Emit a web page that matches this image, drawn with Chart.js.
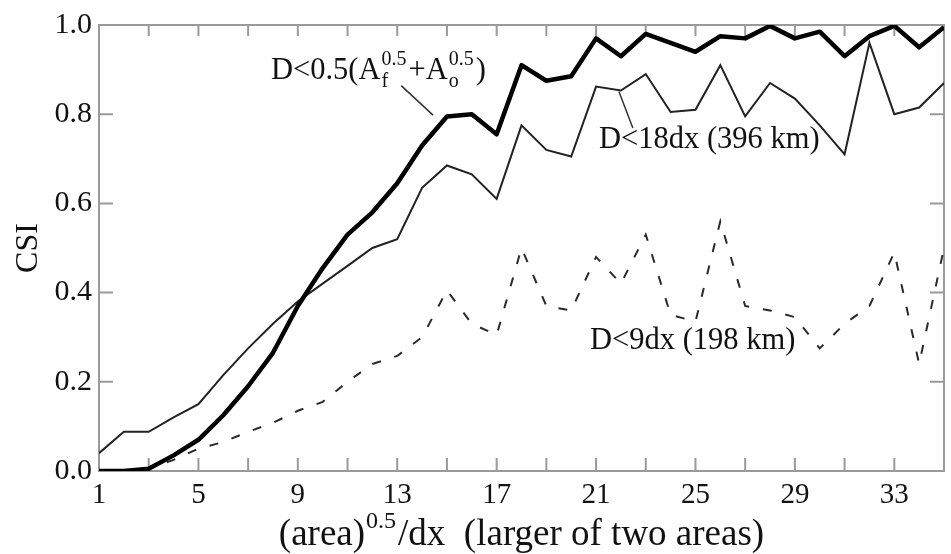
<!DOCTYPE html>
<html>
<head>
<meta charset="utf-8">
<script src="https://cdn.jsdelivr.net/npm/chart.js@4.4.1/dist/chart.umd.min.js"></script>
<style>
  html, body { margin: 0; padding: 0; background: #fff; }
  #wrap { width: 951px; height: 554px; }
</style>
</head>
<body>
<div id="wrap"><canvas id="grafico" width="951" height="554"></canvas></div>
<script>
// Datos

const tamanos = [1, 2, 3, 4, 5, 6, 7, 8, 9, 10, 11, 12, 13, 14, 15, 16, 17, 18,
  19, 20, 21, 22, 23, 24, 25, 26, 27, 28, 29, 30, 31, 32, 33, 34, 35];

// D<0.5(Af^0.5+Ao^0.5)
const csiArea = [0.0, 0.0, 0.005, 0.035, 0.07, 0.125, 0.19, 0.265, 0.37, 0.455,
  0.53, 0.58, 0.645, 0.73, 0.795, 0.80, 0.755, 0.91, 0.875, 0.885, 0.97, 0.93,
  0.98, 0.96, 0.94, 0.975, 0.97, 0.998, 0.97, 0.985, 0.93, 0.975, 0.998, 0.95, 0.995];

// D<18dx (396 km)
const csi18dx = [0.04, 0.088, 0.088, 0.12, 0.15, 0.215, 0.275, 0.33, 0.38, 0.42,
  0.46, 0.50, 0.52, 0.635, 0.685, 0.665, 0.61, 0.775, 0.72, 0.705, 0.862, 0.853,
  0.89, 0.805, 0.81, 0.91, 0.795, 0.87, 0.835, 0.775, 0.71, 0.96, 0.80, 0.815, 0.87];

// D<9dx (198 km)
const csi9dx = [0.0, 0.0, 0.005, 0.025, 0.05, 0.065, 0.088, 0.108, 0.135, 0.155,
  0.20, 0.24, 0.258, 0.30, 0.405, 0.33, 0.305, 0.50, 0.37, 0.36, 0.48, 0.42,
  0.53, 0.35, 0.335, 0.56, 0.37, 0.36, 0.345, 0.275, 0.33, 0.37, 0.49, 0.24, 0.50];

const etiquetasX = [1, 5, 9, 13, 17, 21, 25, 29, 33];
const etiquetasY = [0.0, 0.2, 0.4, 0.6, 0.8, 1.0];

const FUENTE = '"Liberation Serif", "Times New Roman", serif';

// Rotulos dentro del grafico (en coordenadas de datos)
const rotulos = [
  { x: 7.92, y: 0.879, partes: [{ t: 'D<0.5(A' }, { sub: 'f', sup: '0.5' }, { t: '+A' }, { sub: 'o', sup: '0.5' }, { t: ')' }] },
  { x: 21.12, y: 0.724, partes: [{ t: 'D<18dx (396 km)' }] },
  { x: 20.76, y: 0.273, partes: [{ t: 'D<9dx (198 km)' }] }
];
const guias = [
  { x1: 13.16, y1: 0.864, x2: 14.44, y2: 0.798 },
  { x1: 21.92, y1: 0.851, x2: 22.48, y2: 0.769 }
];

//Funciones auxiliares

function puntos(valores) {
  return tamanos.map((t, i) => ({ x: t, y: valores[i] }));
}

function textoRico(ctx, x, y, partes, tam, dibujar) {
  let cx = x;
  for (const p of partes) {
    if (p.t) {
      ctx.font = `${tam}px ${FUENTE}`;
      if (dibujar) ctx.fillText(p.t, cx, y);
      cx += ctx.measureText(p.t).width;
    } else {
      ctx.font = `${Math.round(tam * 0.66)}px ${FUENTE}`;
      let w = 0;
      if (p.sup) {
        if (dibujar) ctx.fillText(p.sup, cx + 1, y - tam * 0.45);
        w = ctx.measureText(p.sup).width;
      }
      if (p.sub) {
        if (dibujar) ctx.fillText(p.sub, cx + 1, y + tam * 0.25);
        w = Math.max(w, ctx.measureText(p.sub).width);
      }
      cx += w + 3;
    }
  }
  return cx - x;
}

const cajaEjes = {
  id: 'cajaEjes',
  beforeDatasetsDraw(chart) {
    const { ctx, chartArea: a, scales: { x, y } } = chart;
    ctx.save();
    ctx.strokeStyle = '#9a9a9a';
    ctx.lineWidth = 2;
    ctx.strokeRect(a.left, a.top, a.right - a.left, a.bottom - a.top);
    ctx.beginPath();
    for (const t of x.ticks) {
      const px = x.getPixelForValue(t.value);
      ctx.moveTo(px, a.bottom); ctx.lineTo(px, a.bottom - 13);
      ctx.moveTo(px, a.top); ctx.lineTo(px, a.top + 11);
    }
    for (const t of y.ticks) {
      const py = y.getPixelForValue(t.value);
      ctx.moveTo(a.left, py); ctx.lineTo(a.left + 14, py);
      ctx.moveTo(a.right, py); ctx.lineTo(a.right - 14, py);
    }
    ctx.stroke();
    ctx.restore();
  },
  afterDraw(chart) {
    const { ctx, chartArea: a, scales: { x, y } } = chart;
    ctx.save();
    ctx.fillStyle = '#111';
    ctx.textBaseline = 'alphabetic';
    ctx.textAlign = 'left';
    for (const r of rotulos) {
      textoRico(ctx, x.getPixelForValue(r.x), y.getPixelForValue(r.y), r.partes, 30.5, true);
    }
    ctx.strokeStyle = '#333';
    ctx.lineWidth = 1.5;
    ctx.beginPath();
    for (const g of guias) {
      ctx.moveTo(x.getPixelForValue(g.x1), y.getPixelForValue(g.y1));
      ctx.lineTo(x.getPixelForValue(g.x2), y.getPixelForValue(g.y2));
    }
    ctx.stroke();
    // titulo del eje x con superindice
    const titulo = [{ t: '(area)' }, { sup: '0.5' }, { t: '/dx  (larger of two areas)' }];
    const ancho = textoRico(ctx, 0, 0, titulo, 37, false);
    textoRico(ctx, (a.left + a.right) / 2 - ancho / 2, 545, titulo, 37, true);
    ctx.restore();
  }
};

//Grafico

const ctx = document.getElementById('grafico').getContext('2d');
const grafico = new Chart(ctx, {
  type: 'line',
  data: {
    datasets: [
      {
        label: 'D<0.5(Af^0.5+Ao^0.5)',
        data: puntos(csiArea),
        borderColor: '#000',
        borderWidth: 4.5,
        pointRadius: 0,
        borderJoinStyle: 'round'
      },
      {
        label: 'D<18dx (396 km)',
        data: puntos(csi18dx),
        borderColor: '#222',
        borderWidth: 2,
        pointRadius: 0
      },
      {
        label: 'D<9dx (198 km)',
        data: puntos(csi9dx),
        borderColor: '#2a2a2a',
        borderWidth: 2,
        borderDash: [9, 14],
        pointRadius: 0
      }
    ]
  },
  options: {
    responsive: false,
    animation: false,
    devicePixelRatio: 1,
    layout: { padding: { top: 21, right: 2, left: 0, bottom: 0 } },
    plugins: {
      legend: { display: false },
      tooltip: { enabled: false }
    },
    scales: {
      x: {
        type: 'linear',
        min: 1,
        max: 35,
        afterFit: s => { s.height = 83; },
        grid: { display: false, drawTicks: false },
        border: { display: false },
        ticks: {
          stepSize: 2,
          padding: 7,
          color: '#111',
          font: { family: FUENTE, size: 29 },
          maxRotation: 0,
          autoSkip: false,
          callback: v => etiquetasX.includes(v) ? String(v) : ''
        }
      },
      y: {
        min: 0,
        max: 1,
        afterFit: s => { s.width = 99; },
        grid: { display: false, drawTicks: false },
        border: { display: false },
        ticks: {
          stepSize: 0.2,
          padding: 7,
          color: '#111',
          font: { family: FUENTE, size: 30 },
          callback: v => etiquetasY.some(e => Math.abs(e - v) < 1e-6) ? v.toFixed(1) : ''
        },
        title: {
          display: true,
          text: 'CSI',
          color: '#111',
          font: { family: FUENTE, size: 32 },
          padding: { top: 9, bottom: 0 }
        }
      }
    }
  },
  plugins: [cajaEjes]
});
</script>
</body>
</html>
